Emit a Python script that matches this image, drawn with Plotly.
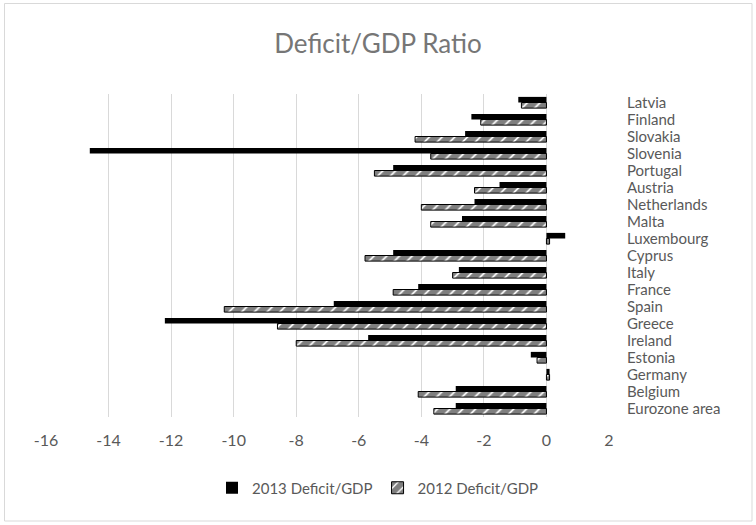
import plotly.graph_objects as go

countries = ["Eurozone area", "Belgium", "Germany", "Estonia", "Ireland", "Greece",
             "Spain", "France", "Italy", "Cyprus", "Luxembourg", "Malta",
             "Netherlands", "Austria", "Portugal", "Slovenia", "Slovakia",
             "Finland", "Latvia"]
deficit_2013 = [-2.9, -2.9, 0.1, -0.5, -5.7, -12.2, -6.8, -4.1, -2.8, -4.9, 0.6, -2.7,
                -2.3, -1.5, -4.9, -14.6, -2.6, -2.4, -0.9]
deficit_2012 = [-3.6, -4.1, 0.1, -0.3, -8.0, -8.6, -10.3, -4.9, -3.0, -5.8, 0.1, -3.7,
                -4.0, -2.3, -5.5, -3.7, -4.2, -2.1, -0.8]
x_ticks = [-16, -14, -12, -10, -8, -6, -4, -2, 0, 2]

FONT = "Lato"
GREY = "#595959"

fig = go.Figure()
# 2012 first so it sits below the 2013 bar in each group
fig.add_trace(go.Bar(
    y=countries, x=deficit_2012, orientation="h", name="2012 Deficit/GDP",
    legendrank=2,
    marker=dict(color="white", line=dict(color="black", width=1),
                pattern=dict(shape="/", fgcolor="black", bgcolor="white",
                             size=9, solidity=0.8)),
))
fig.add_trace(go.Bar(
    y=countries, x=deficit_2013, orientation="h", name="2013 Deficit/GDP",
    legendrank=1,
    marker=dict(color="black", line=dict(width=0)),
))

fig.update_layout(
    width=756, height=525,
    margin=dict(l=46, r=147, t=94, b=108, autoexpand=False),
    paper_bgcolor="white", plot_bgcolor="white",
    barmode="group", bargap=0.34, bargroupgap=0,
    font=dict(family=FONT, size=15, color=GREY),
    title=dict(text="Deficit/GDP Ratio", x=0.5, xref="container", xanchor="center",
               y=1 - 44 / 525, yref="container", yanchor="middle",
               font=dict(family=FONT, size=26, color="#767676")),
    xaxis=dict(range=[-16, 2], tickvals=x_ticks, ticktext=[str(v) for v in x_ticks],
               showgrid=True, gridcolor="#d9d9d9", gridwidth=1, zeroline=False,
               showline=False, ticks="", automargin=False,
               ticklabelstandoff=12, tickfont=dict(size=16, color=GREY)),
    yaxis=dict(categoryorder="array", categoryarray=countries, side="right",
               tickmode="array", tickvals=countries,
               showgrid=False, zeroline=False, showline=False, ticks="",
               automargin=False,
               ticklabelstandoff=17, tickfont=dict(size=15, color=GREY)),
    legend=dict(orientation="h", xref="container", x=0.5, xanchor="center",
                yref="container", y=1 - 488 / 525, yanchor="middle",
                font=dict(size=15, color=GREY), itemwidth=30),
    shapes=[dict(type="rect", xref="paper", yref="paper",
                 x0=(4.5 - 46) / 563, x1=(752 - 46) / 563,
                 y0=(417 - 521) / 323, y1=(417 - 3.5) / 323,
                 line=dict(color="#d9d9d9", width=1), fillcolor="rgba(0,0,0,0)",
                 layer="below")],
)

# drop the page's default body margin so the figure sits at the window's corner
fig.write_html("out.html", config={"displayModeBar": False},
               post_script="document.body.style.margin='0';")
